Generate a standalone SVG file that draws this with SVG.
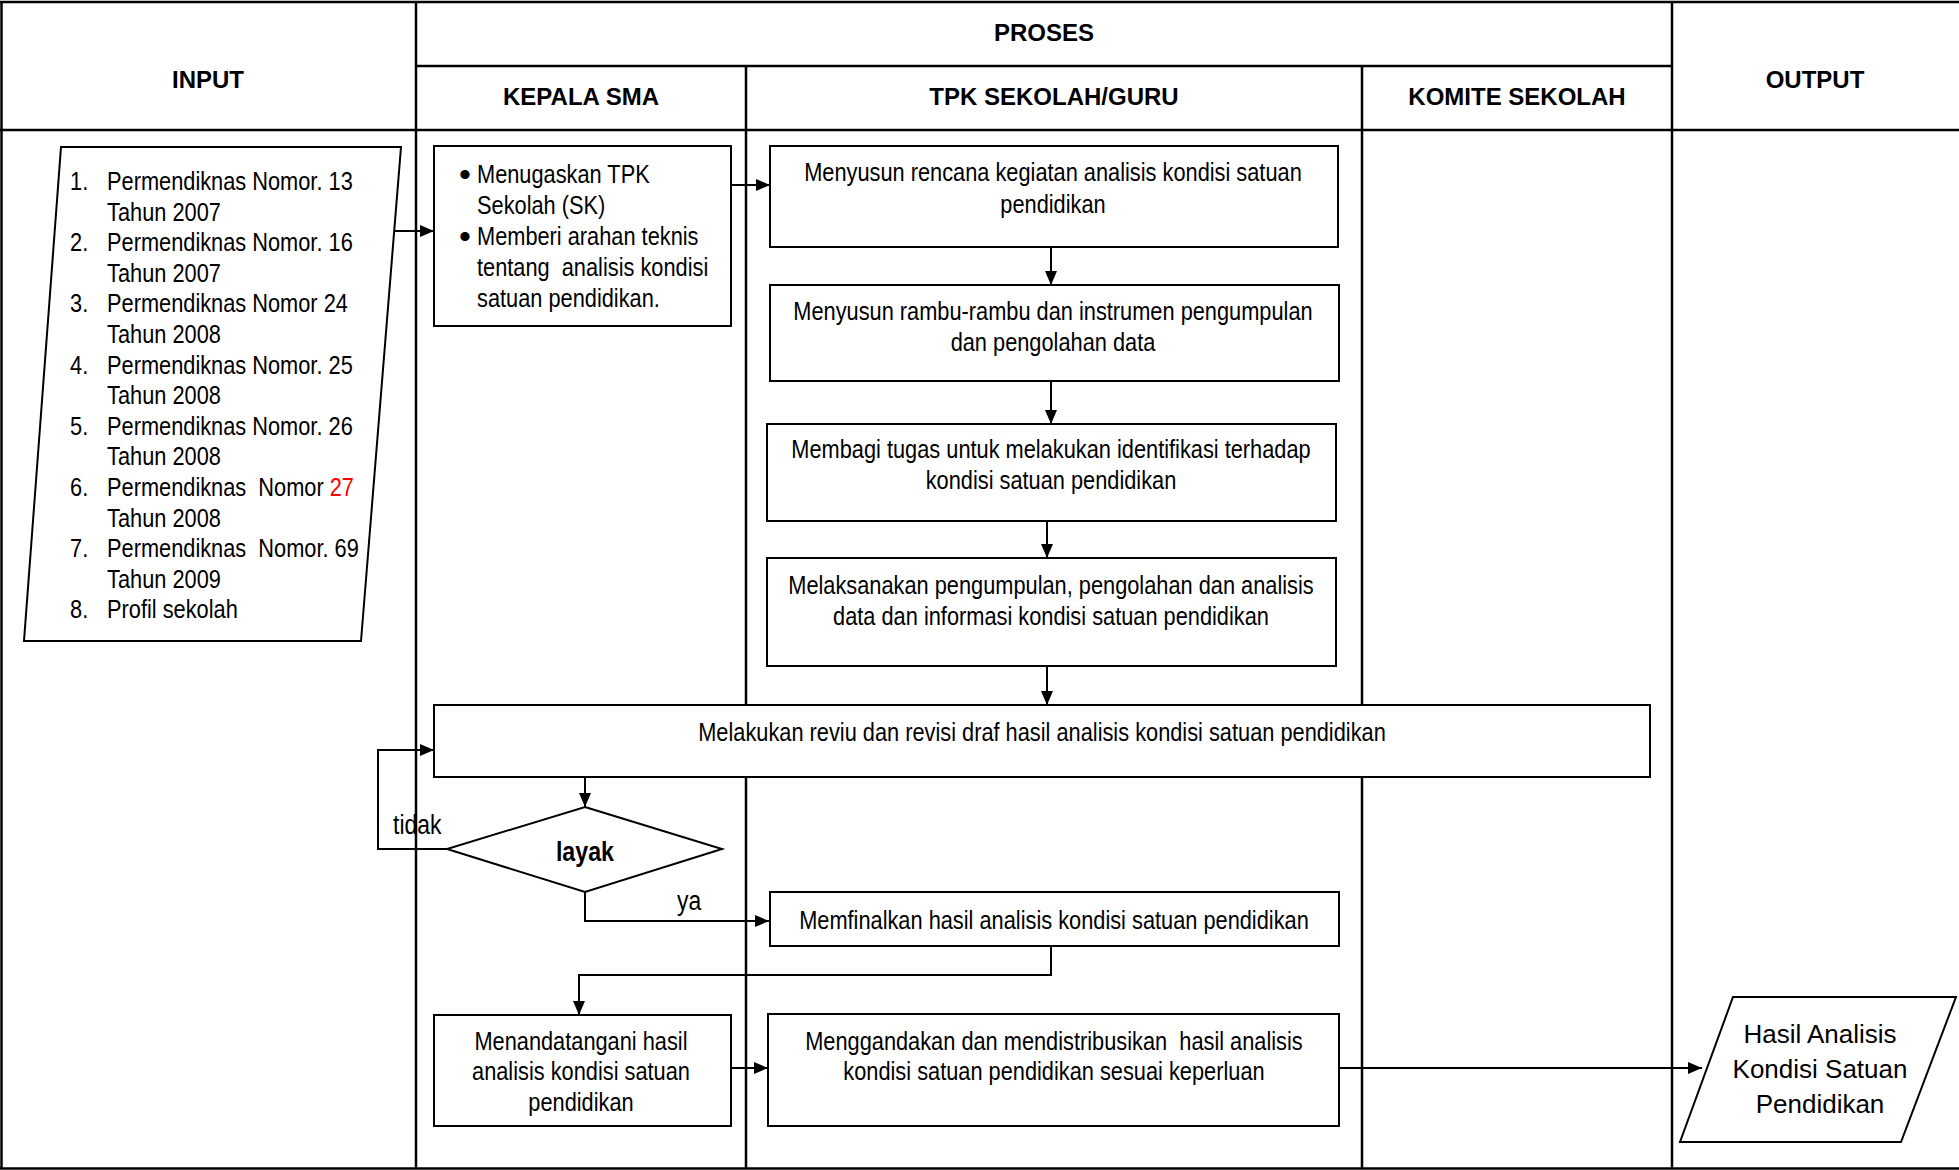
<svg xmlns="http://www.w3.org/2000/svg" width="1959" height="1170" viewBox="0 0 1959 1170">
<style>
.grid{stroke:#000;stroke-width:2.5;fill:none}
.box{stroke:#000;stroke-width:2;fill:#fff}
.con{stroke:#000;stroke-width:2;fill:none}
.hd{font-family:'Liberation Sans',Arial,sans-serif;font-weight:bold;font-size:24px;text-anchor:middle;fill:#000}
.t{font-family:'Liberation Sans',Arial,sans-serif;font-size:26.5px;fill:#000}
.c{text-anchor:middle}
.bul{font-family:'Liberation Sans',Arial,sans-serif;font-size:34px;text-anchor:middle;fill:#000}
.lbl{font-family:'Liberation Sans',Arial,sans-serif;font-size:27px;fill:#000}
.out{font-family:'Liberation Sans',Arial,sans-serif;font-size:26px;text-anchor:middle;fill:#000}
</style>
<defs>
<marker id="ah" markerWidth="14" markerHeight="12" refX="14" refY="6" orient="auto" markerUnits="userSpaceOnUse">
<path d="M0,0 L14,6 L0,12 Z" fill="#000"/>
</marker>
</defs>
<rect width="1959" height="1170" fill="#fff"/>
<g id="grid">
<line class="grid" x1="0" y1="2" x2="1959" y2="2"/>
<line class="grid" x1="416" y1="66" x2="1672" y2="66"/>
<line class="grid" x1="0" y1="130" x2="1959" y2="130"/>
<line class="grid" x1="0" y1="1168.5" x2="1959" y2="1168.5"/>
<line class="grid" x1="1.5" y1="2" x2="1.5" y2="1169"/>
<line class="grid" x1="416" y1="2" x2="416" y2="1169"/>
<line class="grid" x1="746" y1="66" x2="746" y2="1169"/>
<line class="grid" x1="1362" y1="66" x2="1362" y2="1169"/>
<line class="grid" x1="1672" y1="2" x2="1672" y2="1169"/>
<text class="hd" x="208" y="88">INPUT</text>
<text class="hd" x="1044" y="41">PROSES</text>
<text class="hd" x="581" y="105">KEPALA SMA</text>
<text class="hd" x="1054" y="105">TPK SEKOLAH/GURU</text>
<text class="hd" x="1517" y="105">KOMITE SEKOLAH</text>
<text class="hd" x="1815" y="88">OUTPUT</text>
</g>
<g id="connectors">
<line class="con" x1="395" y1="231" x2="434" y2="231" marker-end="url(#ah)"/>
<line class="con" x1="731" y1="185" x2="770" y2="185" marker-end="url(#ah)"/>
<line class="con" x1="1051" y1="247" x2="1051" y2="285" marker-end="url(#ah)"/>
<line class="con" x1="1051" y1="381" x2="1051" y2="424" marker-end="url(#ah)"/>
<line class="con" x1="1047" y1="521" x2="1047" y2="558" marker-end="url(#ah)"/>
<line class="con" x1="1047" y1="666" x2="1047" y2="705" marker-end="url(#ah)"/>
<line class="con" x1="585" y1="777" x2="585" y2="807" marker-end="url(#ah)"/>
<polyline class="con" points="447,849 378,849 378,750 434,750" marker-end="url(#ah)"/>
<polyline class="con" points="585,892 585,921 769,921" marker-end="url(#ah)"/>
<polyline class="con" points="1051,946 1051,975 579,975 579,1015" marker-end="url(#ah)"/>
<line class="con" x1="731" y1="1068" x2="768" y2="1068" marker-end="url(#ah)"/>
<line class="con" x1="1339" y1="1068" x2="1702" y2="1068" marker-end="url(#ah)"/>
<g transform="scale(0.85 1)">
<text class="lbl" x="462.4" y="834">tidak</text>
<text class="lbl" x="796.5" y="910">ya</text>
</g>
</g>
<g id="input">
<polygon class="box" points="61,147 401,147 361,641 24,641"/>
<g class="t" transform="scale(0.822 1)">
<text x="85.2" y="190">1.</text><text x="130.2" y="190">Permendiknas Nomor. 13</text>
<text x="130.2" y="220.6">Tahun 2007</text>
<text x="85.2" y="251.2">2.</text><text x="130.2" y="251.2">Permendiknas Nomor. 16</text>
<text x="130.2" y="281.8">Tahun 2007</text>
<text x="85.2" y="312.4">3.</text><text x="130.2" y="312.4">Permendiknas Nomor 24</text>
<text x="130.2" y="343">Tahun 2008</text>
<text x="85.2" y="373.6">4.</text><text x="130.2" y="373.6">Permendiknas Nomor. 25</text>
<text x="130.2" y="404.2">Tahun 2008</text>
<text x="85.2" y="434.8">5.</text><text x="130.2" y="434.8">Permendiknas Nomor. 26</text>
<text x="130.2" y="465.4">Tahun 2008</text>
<text x="85.2" y="496">6.</text><text x="130.2" y="496" xml:space="preserve">Permendiknas  Nomor <tspan fill="#ff0000">27</tspan></text>
<text x="130.2" y="526.6">Tahun 2008</text>
<text x="85.2" y="557.2">7.</text><text x="130.2" y="557.2" xml:space="preserve">Permendiknas  Nomor. 69</text>
<text x="130.2" y="587.8">Tahun 2009</text>
<text x="85.2" y="618.4">8.</text><text x="130.2" y="618.4">Profil sekolah</text>
</g>
</g>
<g id="kepala-tugas">
<rect class="box" x="434" y="146" width="297" height="180"/>
<text class="bul" x="465" y="186">•</text>
<text class="bul" x="465" y="248">•</text>
<g class="t" transform="scale(0.822 1)">
<text x="580.3" y="183">Menugaskan TPK</text>
<text x="580.3" y="214">Sekolah (SK)</text>
<text x="580.3" y="245">Memberi arahan teknis</text>
<text x="580.3" y="276" xml:space="preserve">tentang  analisis kondisi</text>
<text x="580.3" y="307">satuan pendidikan.</text>
</g>
</g>
<g id="tpk-rencana">
<rect class="box" x="770" y="146" width="568" height="101"/>
<g class="t c" transform="scale(0.822 1)">
<text x="1281" y="181">Menyusun rencana kegiatan analisis kondisi satuan</text>
<text x="1281" y="213">pendidikan</text>
</g>
</g>
<g id="tpk-rambu">
<rect class="box" x="770" y="285" width="569" height="96"/>
<g class="t c" transform="scale(0.822 1)">
<text x="1281" y="320">Menyusun rambu-rambu dan instrumen pengumpulan</text>
<text x="1281" y="351">dan pengolahan data</text>
</g>
</g>
<g id="tpk-tugas">
<rect class="box" x="767" y="424" width="569" height="97"/>
<g class="t c" transform="scale(0.822 1)">
<text x="1278.6" y="458">Membagi tugas untuk melakukan identifikasi terhadap</text>
<text x="1278.6" y="489">kondisi satuan pendidikan</text>
</g>
</g>
<g id="tpk-laksana">
<rect class="box" x="767" y="558" width="569" height="108"/>
<g class="t c" transform="scale(0.822 1)">
<text x="1278.6" y="594">Melaksanakan pengumpulan, pengolahan dan analisis</text>
<text x="1278.6" y="625">data dan informasi kondisi satuan pendidikan</text>
</g>
</g>
<g id="reviu">
<rect class="box" x="434" y="705" width="1216" height="72"/>
<g class="t c" transform="scale(0.822 1)">
<text x="1267.6" y="741">Melakukan reviu dan revisi draf hasil analisis kondisi satuan pendidikan</text>
</g>
</g>
<g id="layak">
<polygon class="box" points="585,807 722,849 585,892 447,849"/>
<g transform="scale(0.86 1)">
<text class="lbl c" x="680.2" y="861" font-weight="bold">layak</text>
</g>
</g>
<g id="memfinalkan">
<rect class="box" x="770" y="892" width="569" height="54"/>
<g class="t c" transform="scale(0.822 1)">
<text x="1282.2" y="929">Memfinalkan hasil analisis kondisi satuan pendidikan</text>
</g>
</g>
<g id="menandatangani">
<rect class="box" x="434" y="1015" width="297" height="111"/>
<g class="t c" transform="scale(0.822 1)">
<text x="706.8" y="1050">Menandatangani hasil</text>
<text x="706.8" y="1080">analisis kondisi satuan</text>
<text x="706.8" y="1111">pendidikan</text>
</g>
</g>
<g id="menggandakan">
<rect class="box" x="768" y="1014" width="571" height="112"/>
<g class="t c" transform="scale(0.822 1)">
<text x="1282.2" y="1050" xml:space="preserve">Menggandakan dan mendistribusikan  hasil analisis</text>
<text x="1282.2" y="1080">kondisi satuan pendidikan sesuai keperluan</text>
</g>
</g>
<g id="output">
<polygon class="box" points="1733,997 1956,997 1901,1142 1680,1142"/>
<text class="out" x="1820" y="1043">Hasil Analisis</text>
<text class="out" x="1820" y="1078">Kondisi Satuan</text>
<text class="out" x="1820" y="1113">Pendidikan</text>
</g>
</svg>
